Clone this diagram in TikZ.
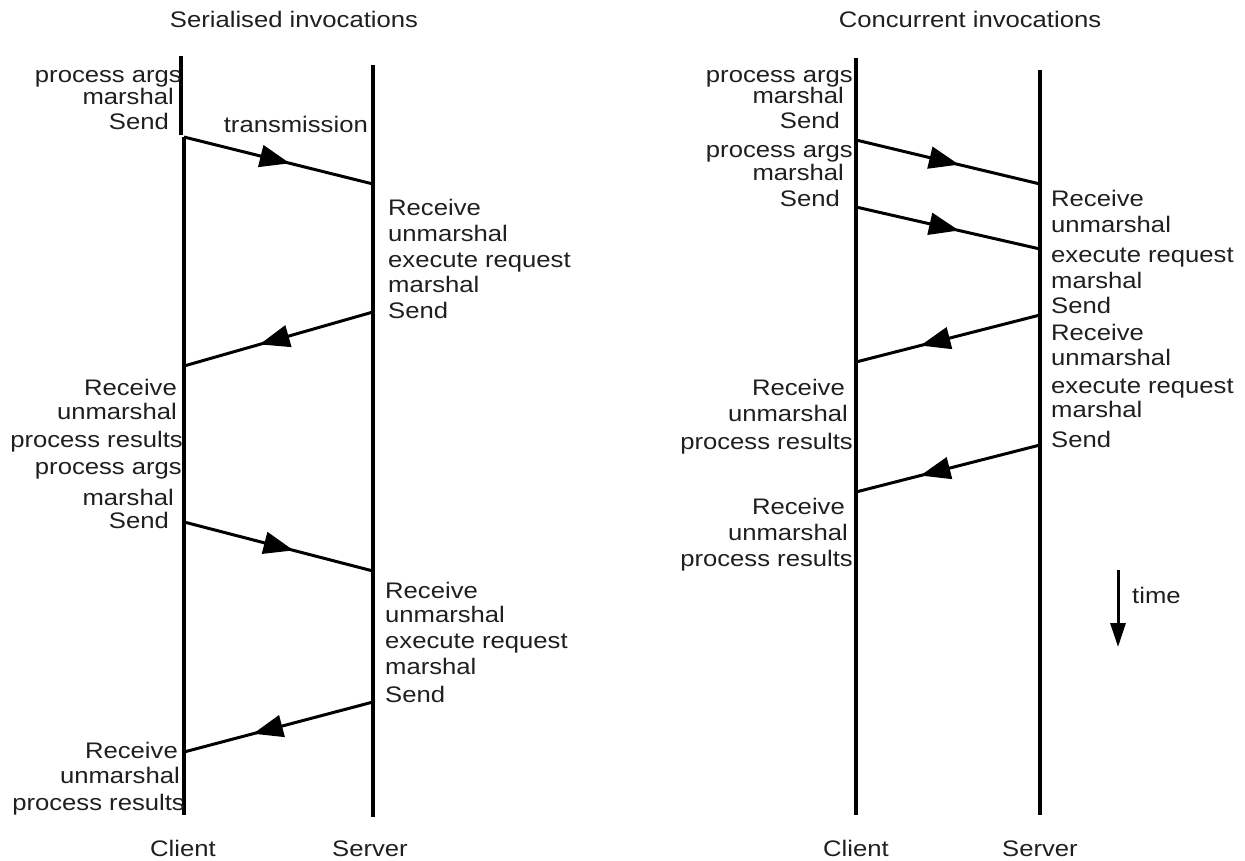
\documentclass[tikz,border=0pt]{standalone}
\usepackage{fontspec}
\setmainfont[FakeStretch=1.14]{Liberation Sans}
\usetikzlibrary{arrows.meta,decorations.markings}
\begin{document}
\begin{tikzpicture}[x=1pt,y=-1pt,
  lifeline/.style={line width=3.2pt},
  msg/.style={line width=3pt, postaction={decorate},
    decoration={markings, mark=at position #1 with {\arrow{Triangle[length=30pt,width=22pt]}}}},
  txt/.style={inner sep=0pt, font=\fontsize{22.5}{26}\selectfont, text=black!88},
  lt/.style={txt, anchor=base east},
  rt/.style={txt, anchor=base west},
  ct/.style={txt, anchor=base}]
\useasboundingbox (0,0) rectangle (1245,861);

% ---------- Serialised ----------
\node[ct] (titleL) at (294,28) {Serialised invocations};
\coordinate (lcTop) at (181,56);
\coordinate (lcTopEnd) at (181,135);
\coordinate (lc0) at (184,137);
\coordinate (lcEnd) at (184,815);
\coordinate (lsTop) at (373,65);
\coordinate (lsEnd) at (373,817);
\draw[lifeline] (lcTop) -- (lcTopEnd);
\draw[lifeline] (lc0) -- (lcEnd);
\draw[lifeline] (lsTop) -- (lsEnd);

\node[lt] (la1) at (182,83) {process args};
\node[lt] (la2) at (174,105) {marshal};
\node[lt] (la3) at (169,130) {Send};
\node[lt] (trans) at (368,133) {transmission};

\coordinate (ls1) at (373,184);
\draw[msg=0.56] (lc0) -- (ls1);

\node[rt] (lb1) at (388,216) {Receive};
\node[rt] (lb2) at (388,241) {unmarshal};
\node[rt] (lb3) at (388,267) {execute request};
\node[rt] (lb4) at (388,292) {marshal};
\node[rt] (lb5) at (388,318) {Send};

\coordinate (ls2) at (373,312);
\coordinate (lc2) at (184,366);
\draw[msg=0.6] (ls2) -- (lc2);

\node[lt] (lc21) at (177,395) {Receive};
\node[lt] (lc22) at (177,419) {unmarshal};
\node[lt] (lc23) at (183,447) {process results};
\node[lt] (lc24) at (182,474) {process args};
\node[lt] (lc25) at (174,505) {marshal};
\node[lt] (lc26) at (169,528) {Send};

\coordinate (lc3) at (184,522);
\coordinate (ls3) at (373,571);
\draw[msg=0.58] (lc3) -- (ls3);

\node[rt] (ld1) at (385,598) {Receive};
\node[rt] (ld2) at (385,622) {unmarshal};
\node[rt] (ld3) at (385,648) {execute request};
\node[rt] (ld4) at (385,674) {marshal};
\node[rt] (ld5) at (385,702) {Send};

\coordinate (ls4) at (373,702);
\coordinate (lc4) at (184,752);
\draw[msg=0.635] (ls4) -- (lc4);

\node[lt] (le1) at (178,758) {Receive};
\node[lt] (le2) at (180,783) {unmarshal};
\node[lt] (le3) at (185,810) {process results};

\node[ct] (clientL) at (183,856) {Client};
\node[ct] (serverL) at (370,856) {Server};

% ---------- Concurrent ----------
\node[ct] (titleR) at (970,28) {Concurrent invocations};
\coordinate (rcTop) at (856,58);
\coordinate (rcEnd) at (856,815);
\coordinate (rsTop) at (1040,70);
\coordinate (rsEnd) at (1040,815);
\draw[lifeline] (rcTop) -- (rcEnd);
\draw[lifeline] (rsTop) -- (rsEnd);

\node[lt] (ra1) at (853,83) {process args};
\node[lt] (ra2) at (844,104) {marshal};
\node[lt] (ra3) at (840,129) {Send};
\node[lt] (ra4) at (853,158) {process args};
\node[lt] (ra5) at (844,181) {marshal};
\node[lt] (ra6) at (840,207) {Send};

\coordinate (rc1) at (856,140);
\coordinate (rs1) at (1040,184);
\draw[msg=0.56] (rc1) -- (rs1);
\coordinate (rc2) at (856,207);
\coordinate (rs2) at (1040,249);
\draw[msg=0.56] (rc2) -- (rs2);

\node[rt] (rb1) at (1051,207) {Receive};
\node[rt] (rb2) at (1051,233) {unmarshal};
\node[rt] (rb3) at (1051,262) {execute request};
\node[rt] (rb4) at (1051,288) {marshal};
\node[rt] (rb5) at (1051,313) {Send};
\node[rt] (rb6) at (1051,340) {Receive};
\node[rt] (rb7) at (1051,365) {unmarshal};
\node[rt] (rb8) at (1051,393) {execute request};
\node[rt] (rb9) at (1051,417) {marshal};
\node[rt] (rb10) at (1051,447) {Send};

\coordinate (rs3) at (1040,315);
\coordinate (rc3) at (856,362);
\draw[msg=0.65] (rs3) -- (rc3);
\coordinate (rs4) at (1040,445);
\coordinate (rc4) at (856,492);
\draw[msg=0.65] (rs4) -- (rc4);

\node[lt] (rd1) at (845,395) {Receive};
\node[lt] (rd2) at (848,421) {unmarshal};
\node[lt] (rd3) at (853,449) {process results};
\node[lt] (rd4) at (845,514) {Receive};
\node[lt] (rd5) at (848,540) {unmarshal};
\node[lt] (rd6) at (853,566) {process results};

\node[ct] (clientR) at (856,856) {Client};
\node[ct] (serverR) at (1040,856) {Server};

\coordinate (tTop) at (1118,570);
\coordinate (tEnd) at (1118,647);
\draw[line width=3pt, -{Triangle[length=24pt,width=15pt]}] (tTop) -- (tEnd);
\node[rt] (time) at (1132,603) {time};
\end{tikzpicture}
\end{document}
